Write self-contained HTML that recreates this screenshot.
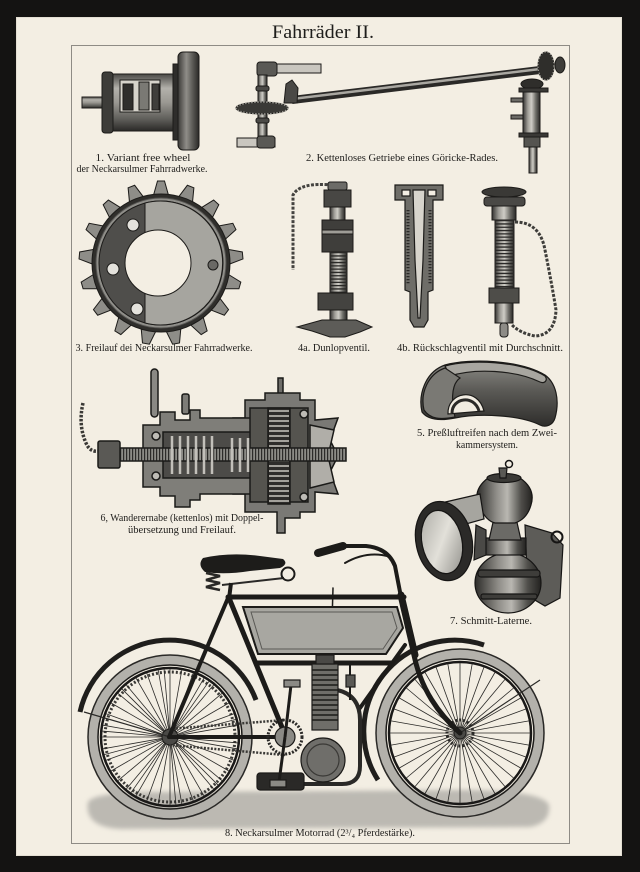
<!DOCTYPE html>
<html><head><meta charset="utf-8">
<style>
html,body{margin:0;padding:0;background:#121110;}
svg{display:block;}
text{font-family:"Liberation Serif","DejaVu Serif",serif;fill:#1e1d1b;}
</style></head><body>
<svg xmlns="http://www.w3.org/2000/svg" xmlns:xlink="http://www.w3.org/1999/xlink" width="640" height="872" viewBox="0 0 640 872">
<defs>
<linearGradient id="cx" x1="0" y1="0" x2="1" y2="0">
<stop offset="0" stop-color="#343331"/><stop offset=".28" stop-color="#9e9c96"/><stop offset=".5" stop-color="#cfcdc6"/><stop offset=".75" stop-color="#6f6e69"/><stop offset="1" stop-color="#292826"/>
</linearGradient>
<linearGradient id="cy" x1="0" y1="0" x2="0" y2="1">
<stop offset="0" stop-color="#4a4946"/><stop offset=".25" stop-color="#b3b1ab"/><stop offset=".5" stop-color="#9a9892"/><stop offset=".8" stop-color="#5d5c58"/><stop offset="1" stop-color="#2a2927"/>
</linearGradient>
<linearGradient id="fl" x1="0" y1="0" x2="1" y2="0">
<stop offset="0" stop-color="#3b3a37"/><stop offset=".4" stop-color="#8f8d88"/><stop offset=".7" stop-color="#5a5955"/><stop offset="1" stop-color="#2a2927"/>
</linearGradient>
<linearGradient id="lb" x1="0" y1="0" x2="1" y2="0">
<stop offset="0" stop-color="#2d2c2a"/><stop offset=".35" stop-color="#8e8c87"/><stop offset=".55" stop-color="#b9b7b1"/><stop offset=".8" stop-color="#4f4e4a"/><stop offset="1" stop-color="#232220"/>
</linearGradient>
<linearGradient id="lens" x1="0" y1="0" x2="1" y2="1">
<stop offset="0" stop-color="#a9a8a2"/><stop offset=".5" stop-color="#e2e0d9"/><stop offset="1" stop-color="#8a8984"/>
</linearGradient>
<linearGradient id="tire" x1="0" y1="0" x2="0" y2="1">
<stop offset="0" stop-color="#8d8c87"/><stop offset=".45" stop-color="#5b5a56"/><stop offset="1" stop-color="#2e2d2b"/>
</linearGradient>
<filter id="bl" x="-10%" y="-50%" width="120%" height="200%"><feGaussianBlur stdDeviation="2.5"/></filter>
<path id="tooth" d="M-8,-66 L-3.5,-82 L3.5,-82 L8,-66 Z"/>
</defs>

<!-- frame -->
<rect width="640" height="872" fill="#141312"/>
<rect x="16" y="17" width="606" height="839" fill="#f3eee3"/>
<rect x="16.5" y="17.5" width="605" height="838" fill="none" stroke="#e4dfd3" stroke-width="1"/>
<rect x="71.5" y="45.5" width="498" height="798" fill="none" stroke="#8e8b85" stroke-width="1"/>

<!-- title -->
<text x="323" y="38" font-size="19" text-anchor="middle" textLength="102" lengthAdjust="spacingAndGlyphs">Fahrräder II.</text>

<!-- ITEM 1 free wheel -->
<g stroke="#1c1b19" stroke-width="1">
<rect x="82" y="97" width="22" height="11" fill="url(#cy)"/>
<rect x="102" y="74" width="76" height="57" rx="3" fill="url(#cy)"/>
<rect x="102" y="72" width="11" height="61" rx="3" fill="#3d3c39"/>
<rect x="120" y="80" width="40" height="32" fill="#d6d3cb"/>
<rect x="123" y="84" width="10" height="26" fill="#2f2e2c"/>
<rect x="139" y="82" width="10" height="28" fill="#7a7974"/>
<rect x="152" y="84" width="7" height="26" fill="#3f3e3b"/>
<rect x="173" y="64" width="6" height="76" fill="#2e2d2b"/>
<rect x="178" y="52" width="21" height="98" rx="5" fill="url(#fl)"/>
</g>
<text x="143" y="161" font-size="10" text-anchor="middle" textLength="95" lengthAdjust="spacingAndGlyphs">1. Variant free wheel</text>
<text x="142" y="172" font-size="10" text-anchor="middle" textLength="131" lengthAdjust="spacingAndGlyphs">der Neckarsulmer Fahrradwerke.</text>

<!-- ITEM 2 Göricke gear -->
<g stroke="#1c1b19" stroke-width="1">
<line x1="292" y1="100" x2="540" y2="70" stroke="#2a2927" stroke-width="8"/>
<line x1="292" y1="99" x2="540" y2="69" stroke="#a9a7a1" stroke-width="2.5"/>
<rect x="275" y="64" width="46" height="9" fill="#c9c6bf"/>
<rect x="257" y="62" width="20" height="14" rx="3" fill="#5a5955"/>
<rect x="258" y="75" width="9" height="66" fill="url(#cx)"/>
<rect x="256" y="86" width="13" height="5" rx="2" fill="#4b4a47"/>
<rect x="256" y="118" width="13" height="5" rx="2" fill="#4b4a47"/>
<ellipse cx="262" cy="108" rx="26" ry="6" fill="#3a3936"/>
<ellipse cx="262" cy="108" rx="26" ry="6" fill="none" stroke="#9c9a94" stroke-width="1.5" stroke-dasharray="1.5 1.5"/>
<path d="M284,103 L286,84 L292,80 L298,88 L297,103 Z" fill="#4a4946"/>
<rect x="237" y="138" width="38" height="9" fill="#c9c6bf"/>
<rect x="257" y="136" width="18" height="12" rx="3" fill="#5a5955"/>
<ellipse cx="546" cy="66" rx="8" ry="14" fill="#2f2e2b"/>
<ellipse cx="546" cy="66" rx="8" ry="14" fill="none" stroke="#a09e98" stroke-dasharray="1.5 1.5"/>
<ellipse cx="560" cy="65" rx="5" ry="8" fill="#3d3c39"/>
<ellipse cx="532" cy="84" rx="11" ry="5" fill="#2f2e2b"/>
<rect x="519" y="88" width="29" height="4" fill="#3a3936"/>
<rect x="523" y="92" width="17" height="42" fill="url(#cx)"/>
<rect x="519" y="133" width="29" height="4" fill="#3a3936"/>
<rect x="524" y="137" width="16" height="10" fill="#555450"/>
<rect x="529" y="147" width="8" height="26" fill="url(#cx)"/>
<rect x="511" y="98" width="12" height="4" fill="#6b6a66"/>
<rect x="511" y="115" width="12" height="4" fill="#6b6a66"/>
</g>
<text x="402" y="161" font-size="10" text-anchor="middle" textLength="192" lengthAdjust="spacingAndGlyphs">2. Kettenloses Getriebe eines Göricke-Rades.</text>

<!-- ITEM 3 sprocket -->
<g transform="translate(161,263)" fill="#8e8d88" stroke="#1c1b19" stroke-width="1">
<use xlink:href="#tooth" transform="rotate(0)"/>
<use xlink:href="#tooth" transform="rotate(21.18)"/>
<use xlink:href="#tooth" transform="rotate(42.35)"/>
<use xlink:href="#tooth" transform="rotate(63.53)"/>
<use xlink:href="#tooth" transform="rotate(84.71)"/>
<use xlink:href="#tooth" transform="rotate(105.88)"/>
<use xlink:href="#tooth" transform="rotate(127.06)"/>
<use xlink:href="#tooth" transform="rotate(148.24)"/>
<use xlink:href="#tooth" transform="rotate(169.41)"/>
<use xlink:href="#tooth" transform="rotate(190.59)"/>
<use xlink:href="#tooth" transform="rotate(211.76)"/>
<use xlink:href="#tooth" transform="rotate(232.94)"/>
<use xlink:href="#tooth" transform="rotate(254.12)"/>
<use xlink:href="#tooth" transform="rotate(275.29)"/>
<use xlink:href="#tooth" transform="rotate(296.47)"/>
<use xlink:href="#tooth" transform="rotate(317.65)"/>
<use xlink:href="#tooth" transform="rotate(338.82)"/>
<circle r="69" fill="#2f2e2b"/>
<circle r="65" fill="#8f8e89" stroke="#545350"/>
<circle r="62" fill="#4f4e4b"/>
<path d="M-16,-60 A62,62 0 1 1 -16,60 Z" fill="#a6a59f"/>
<circle cx="-28" cy="-38" r="6" fill="#e4e2dc"/>
<circle cx="-48" cy="6" r="6" fill="#e4e2dc"/>
<circle cx="-24" cy="46" r="6" fill="#e4e2dc"/>
<circle cx="52" cy="2" r="5" fill="#6a6965"/>
<circle cx="-3" cy="0" r="33" fill="#f3eee3"/>
</g>
<text x="164" y="351" font-size="10" text-anchor="middle" textLength="177" lengthAdjust="spacingAndGlyphs">3. Freilauf dei Neckarsulmer Fahrradwerke.</text>

<!-- ITEM 4a Dunlop valve -->
<g stroke="#1c1b19" stroke-width="1">
<path d="M332,185 Q300,182 293,195 L293,270" fill="none" stroke="#444340" stroke-width="3" stroke-dasharray="3 1.5"/>
<rect x="328" y="182" width="19" height="8" rx="2" fill="#6c6b67"/>
<rect x="324" y="190" width="27" height="17" fill="#484744"/>
<rect x="330" y="207" width="15" height="13" fill="url(#cx)"/>
<rect x="322" y="220" width="31" height="32" fill="#3f3e3b"/>
<rect x="322" y="230" width="31" height="4" fill="#9f9d97"/>
<rect x="330" y="252" width="17" height="41" fill="url(#cx)"/>
<line x1="338.5" y1="252" x2="338.5" y2="293" stroke="#2a2927" stroke-width="17" stroke-dasharray="1.3 2"/>
<rect x="318" y="293" width="35" height="17" fill="#444340"/>
<rect x="330" y="310" width="17" height="11" fill="url(#cx)"/>
<path d="M297,327 L322,320 L356,320 L372,327 L360,332 L345,337 L330,337 L312,331 Z" fill="#5d5c58"/>
</g>
<text x="334" y="351" font-size="10" text-anchor="middle" textLength="72" lengthAdjust="spacingAndGlyphs">4a. Dunlopventil.</text>

<!-- ITEM 4b cross-section -->
<g stroke="#1c1b19" stroke-width="1.2">
<path d="M395,185 L443,185 L443,200 L433,200 L433,290 L428,292 L428,320 L424,327 L414,327 L410,320 L410,292 L405,290 L405,200 L395,200 Z" fill="#6e6d68"/>
<path d="M413,190 L425,190 L423,260 L420,318 L418,318 L415,260 Z" fill="#d7d4cc"/>
<rect x="402" y="190" width="8" height="6" fill="#f3eee3"/>
<rect x="428" y="190" width="8" height="6" fill="#f3eee3"/>
<path d="M408,210 L408,285 M430,210 L430,285" stroke="#2a2927" stroke-width="3" stroke-dasharray="1.2 1.8"/>
</g>

<!-- ITEM 4b right valve -->
<g stroke="#1c1b19" stroke-width="1">
<path d="M515,222 Q540,222 545,250 Q552,285 556,310 Q555,335 535,336 Q520,333 512,325" fill="none" stroke="#3e3d3a" stroke-width="3" stroke-dasharray="3 1.5"/>
<ellipse cx="504" cy="192" rx="22" ry="5" fill="#3a3936"/>
<rect x="484" y="197" width="41" height="9" rx="3" fill="#4a4946"/>
<rect x="492" y="206" width="24" height="14" fill="url(#cx)"/>
<rect x="495" y="220" width="19" height="68" fill="url(#cx)"/>
<line x1="504.5" y1="220" x2="504.5" y2="288" stroke="#2a2927" stroke-width="19" stroke-dasharray="1.3 2"/>
<rect x="489" y="288" width="30" height="15" fill="#4e4d49"/>
<rect x="495" y="303" width="18" height="20" fill="url(#cx)"/>
<rect x="500" y="323" width="8" height="14" rx="3" fill="#8d8b86"/>
</g>
<text x="480" y="351" font-size="10" text-anchor="middle" textLength="166" lengthAdjust="spacingAndGlyphs">4b. Rückschlagventil mit Durchschnitt.</text>

<!-- ITEM 5 tire -->
<g stroke="#1c1b19" stroke-width="1.2">
<path d="M422,412 C418,395 425,372 445,365 C470,358 520,360 545,375 C556,383 560,400 555,418 C553,425 546,428 540,425 C520,415 480,413 455,418 C440,421 428,420 422,412 Z" fill="url(#tire)"/>
<path d="M445,366 C470,359 520,361 545,376 C548,380 545,384 540,382 C515,370 475,368 450,376 Z" fill="#a8a6a0"/>
<path d="M424,410 C420,393 428,374 445,368 L460,378 C450,385 452,405 455,417 C440,420 430,419 424,410 Z" fill="#7a7974"/>
<path d="M448,414 C447,392 478,386 484,411 Z" fill="#f1ece1"/>
<path d="M452,413 C452,398 474,394 479,411" fill="none" stroke="#2a2927" stroke-width="3"/>
</g>
<text x="487" y="436" font-size="10" text-anchor="middle" textLength="140" lengthAdjust="spacingAndGlyphs">5. Preßluftreifen nach dem Zwei-</text>
<text x="487" y="448" font-size="10" text-anchor="middle" textLength="62" lengthAdjust="spacingAndGlyphs">kammersystem.</text>

<!-- ITEM 6 hub -->
<g stroke="#1a1a18" stroke-width="1.5">
<path d="M83,403 Q78,425 86,443 Q90,453 100,451" fill="none" stroke="#3a3936" stroke-width="3.5" stroke-dasharray="2.5 1.5"/>
<rect x="151" y="369" width="7" height="48" rx="3.5" fill="#8a8984"/>
<rect x="182" y="394" width="7" height="20" rx="2" fill="#7d7c77"/>
<rect x="278" y="378" width="5" height="18" fill="#6d6c68"/>
<path d="M233,418 L245,418 L245,400 L265,400 L265,393 L300,393 L300,400 L315,400 L315,420 L338,418 L330,440 L338,456 L330,472 L338,494 L315,492 L315,512 L300,512 L300,518 L285,518 L285,533 L277,533 L277,512 L245,512 L245,494 L233,494 Z" fill="#7a7975"/>
<path d="M143,425 L160,425 L160,412 L175,412 L175,420 L190,420 L190,410 L200,410 L200,418 L273,418 L273,494 L200,494 L200,500 L190,500 L190,507 L175,507 L175,496 L160,496 L160,487 L143,487 Z" fill="#7f7e79"/>
<rect x="163" y="432" width="108" height="46" fill="#4c4b48"/>
<rect x="250" y="408" width="58" height="94" fill="#55544f"/>
<rect x="268" y="408" width="22" height="96" fill="#2e2d2b"/>
<line x1="279" y1="410" x2="279" y2="502" stroke="#a3a19b" stroke-width="20" stroke-dasharray="2 3"/>
<path d="M310,425 L334,430 L328,456 L334,482 L310,488 Z" fill="#b0aea8"/>
<rect x="118" y="448" width="228" height="13" fill="#8c8b86"/>
<line x1="120" y1="454.5" x2="346" y2="454.5" stroke="#2c2b29" stroke-width="12" stroke-dasharray="1.2 1.8"/>
<rect x="98" y="441" width="22" height="27" rx="2" fill="#5a5955"/>
<path d="M172,436 L172,474 M180,436 L180,474 M188,436 L188,474 M196,436 L196,474 M204,436 L204,474 M212,436 L212,474 M232,438 L232,472 M240,438 L240,472 M248,438 L248,472" stroke="#c2c0ba" stroke-width="2.5"/>
<circle cx="156" cy="436" r="4" fill="#bdbbb5"/>
<circle cx="156" cy="476" r="4" fill="#bdbbb5"/>
<circle cx="304" cy="414" r="4" fill="#bdbbb5"/>
<circle cx="304" cy="497" r="4" fill="#bdbbb5"/>
</g>
<text x="182" y="521" font-size="10" text-anchor="middle" textLength="163" lengthAdjust="spacingAndGlyphs">6, Wanderernabe (kettenlos) mit Doppel-</text>
<text x="182" y="533" font-size="10" text-anchor="middle" textLength="108" lengthAdjust="spacingAndGlyphs">übersetzung und Freilauf.</text>

<!-- ITEM 7 lantern -->
<g stroke="#161514" stroke-width="1.2">
<path d="M525,525 L552,533 L563,545 L560,598 L545,606 L528,596 Z" fill="#5d5c58"/>
<circle cx="557" cy="537" r="5.5" fill="none" stroke-width="2"/>
<ellipse cx="508" cy="583" rx="33" ry="30" fill="url(#lb)"/>
<rect x="478" y="570" width="62" height="7" rx="3" fill="#3e3d3a"/>
<rect x="481" y="594" width="56" height="5" rx="2" fill="#3e3d3a"/>
<rect x="484" y="538" width="42" height="17" fill="url(#lb)"/>
<path d="M494,518 L516,518 L521,540 L489,540 Z" fill="#6b6a66"/>
<path d="M488,478 Q472,490 479,506 Q486,521 495,523 L515,523 Q527,519 531,505 Q536,489 520,478 Z" fill="url(#lb)"/>
<ellipse cx="504" cy="478" rx="17" ry="4.5" fill="#3b3a37"/>
<path d="M499,468 L507,468 L506,478 L500,478 Z" fill="#5a5955"/>
<circle cx="509" cy="464" r="3.5" fill="none" stroke-width="1.5"/>
<path d="M441,503 L480,494 L484,519 L455,527 Z" fill="#a6a59f"/>
<ellipse cx="444" cy="541" rx="28" ry="40" transform="rotate(-12 444 541)" fill="#2b2a28"/>
<ellipse cx="442" cy="542" rx="20" ry="32" transform="rotate(-12 442 542)" fill="url(#lens)"/>
<path d="M476,525 L486,530 L486,555 L474,560 Z" fill="#4a4946"/>
</g>
<text x="491" y="624" font-size="10" text-anchor="middle" textLength="82" lengthAdjust="spacingAndGlyphs">7. Schmitt-Laterne.</text>

<!-- ITEM 8 motorcycle -->
<path d="M88,802 Q96,791 170,792 L460,790 Q542,790 549,805 Q551,823 530,827 L120,829 Q84,827 88,802 Z" fill="#bcb9b2" filter="url(#bl)"/>

<!-- rear wheel -->
<g transform="translate(170,737)">
<circle r="77" fill="none" stroke="#b3b1ab" stroke-width="10"/>
<circle r="82" fill="none" stroke="#2a2927" stroke-width="1.5"/>
<circle r="72" fill="none" stroke="#1c1b19" stroke-width="1.5"/>
<circle r="69" fill="none" stroke="#1a1918" stroke-width="2.5"/>
<circle r="65" fill="none" stroke="#3a3936" stroke-width="3" stroke-dasharray="2 2"/>
<g stroke="#2a2927" stroke-width="0.8">
<line x1="-68" y1="0" x2="68" y2="0"/>
<line x1="-68" y1="0" x2="68" y2="0" transform="rotate(10)"/>
<line x1="-68" y1="0" x2="68" y2="0" transform="rotate(20)"/>
<line x1="-68" y1="0" x2="68" y2="0" transform="rotate(30)"/>
<line x1="-68" y1="0" x2="68" y2="0" transform="rotate(40)"/>
<line x1="-68" y1="0" x2="68" y2="0" transform="rotate(50)"/>
<line x1="-68" y1="0" x2="68" y2="0" transform="rotate(60)"/>
<line x1="-68" y1="0" x2="68" y2="0" transform="rotate(70)"/>
<line x1="-68" y1="0" x2="68" y2="0" transform="rotate(80)"/>
<line x1="-68" y1="0" x2="68" y2="0" transform="rotate(90)"/>
<line x1="-68" y1="0" x2="68" y2="0" transform="rotate(100)"/>
<line x1="-68" y1="0" x2="68" y2="0" transform="rotate(110)"/>
<line x1="-68" y1="0" x2="68" y2="0" transform="rotate(120)"/>
<line x1="-68" y1="0" x2="68" y2="0" transform="rotate(130)"/>
<line x1="-68" y1="0" x2="68" y2="0" transform="rotate(140)"/>
<line x1="-68" y1="0" x2="68" y2="0" transform="rotate(150)"/>
<line x1="-68" y1="0" x2="68" y2="0" transform="rotate(160)"/>
<line x1="-68" y1="0" x2="68" y2="0" transform="rotate(170)"/>
<line x1="-68" y1="0" x2="68" y2="0" transform="rotate(5)"/>
<line x1="-68" y1="0" x2="68" y2="0" transform="rotate(45)"/>
<line x1="-68" y1="0" x2="68" y2="0" transform="rotate(85)"/>
<line x1="-68" y1="0" x2="68" y2="0" transform="rotate(125)"/>
<line x1="-68" y1="0" x2="68" y2="0" transform="rotate(165)"/>
</g>
<circle r="8" fill="#4a4946" stroke="#1c1b19"/>
</g>
<!-- front wheel -->
<g transform="translate(460,733)">
<circle r="79" fill="none" stroke="#b3b1ab" stroke-width="10"/>
<circle r="84" fill="none" stroke="#2a2927" stroke-width="1.5"/>
<circle r="74" fill="none" stroke="#1c1b19" stroke-width="1.5"/>
<circle r="71" fill="none" stroke="#1a1918" stroke-width="2.5"/>
<g stroke="#2a2927" stroke-width="0.8">
<line x1="-70" y1="0" x2="70" y2="0"/>
<line x1="-70" y1="0" x2="70" y2="0" transform="rotate(10)"/>
<line x1="-70" y1="0" x2="70" y2="0" transform="rotate(20)"/>
<line x1="-70" y1="0" x2="70" y2="0" transform="rotate(30)"/>
<line x1="-70" y1="0" x2="70" y2="0" transform="rotate(40)"/>
<line x1="-70" y1="0" x2="70" y2="0" transform="rotate(50)"/>
<line x1="-70" y1="0" x2="70" y2="0" transform="rotate(60)"/>
<line x1="-70" y1="0" x2="70" y2="0" transform="rotate(70)"/>
<line x1="-70" y1="0" x2="70" y2="0" transform="rotate(80)"/>
<line x1="-70" y1="0" x2="70" y2="0" transform="rotate(90)"/>
<line x1="-70" y1="0" x2="70" y2="0" transform="rotate(100)"/>
<line x1="-70" y1="0" x2="70" y2="0" transform="rotate(110)"/>
<line x1="-70" y1="0" x2="70" y2="0" transform="rotate(120)"/>
<line x1="-70" y1="0" x2="70" y2="0" transform="rotate(130)"/>
<line x1="-70" y1="0" x2="70" y2="0" transform="rotate(140)"/>
<line x1="-70" y1="0" x2="70" y2="0" transform="rotate(150)"/>
<line x1="-70" y1="0" x2="70" y2="0" transform="rotate(160)"/>
<line x1="-70" y1="0" x2="70" y2="0" transform="rotate(170)"/>
</g>
<circle r="13" fill="none" stroke="#2a2927" stroke-width="3" stroke-dasharray="2 2"/>
<circle r="6" fill="#4a4946" stroke="#1c1b19"/>
</g>

<!-- fenders -->
<path d="M80,712 A92,92 0 0 1 256,700" fill="none" stroke="#1f1e1c" stroke-width="5"/>
<path d="M378,780 A91,91 0 0 1 484,645" fill="none" stroke="#1f1e1c" stroke-width="5"/>
<line x1="84" y1="712" x2="170" y2="737" stroke="#2a2927" stroke-width="1.2"/>
<line x1="540" y1="680" x2="460" y2="733" stroke="#2a2927" stroke-width="1.2"/>

<!-- chain -->
<line x1="169" y1="729" x2="285" y2="720" stroke="#3a3936" stroke-width="2.5" stroke-dasharray="2 1.5"/>
<line x1="169" y1="745" x2="285" y2="755" stroke="#3a3936" stroke-width="2.5" stroke-dasharray="2 1.5"/>

<!-- frame -->
<g stroke="#1c1b19" stroke-linecap="round" fill="none">
<line x1="228" y1="598" x2="169" y2="737" stroke-width="4"/>
<line x1="169" y1="737" x2="285" y2="737" stroke-width="4"/>
<line x1="229" y1="598" x2="286" y2="737" stroke-width="5"/>
<line x1="228" y1="597" x2="404" y2="597" stroke-width="5"/>
<line x1="256" y1="663" x2="392" y2="663" stroke-width="5"/>
<line x1="401" y1="595" x2="415" y2="655" stroke-width="7"/>
<path d="M413,650 C420,690 440,715 460,733" stroke-width="5"/>
<line x1="405" y1="645" x2="360" y2="708" stroke-width="4"/>
<path d="M401,597 L395,566 Q388,548 366,546 L346,546" stroke-width="4"/>
<line x1="318" y1="553" x2="343" y2="546" stroke-width="8"/>
<path d="M345,563 Q366,551 387,556" stroke-width="2"/>
<line x1="333" y1="588" x2="330" y2="690" stroke-width="1.5"/>
</g>
<path d="M243,607 L397,607 L403,628 L386,654 L258,654 Z" fill="#a8a7a1" stroke="#1c1b19" stroke-width="2"/>
<path d="M251,612 L392,612 L397,628 L383,649 L262,649 Z" fill="none" stroke="#5a5955" stroke-width="1"/>

<!-- saddle -->
<path d="M203,558 Q230,552 260,556 L283,559 Q289,564 280,568 L250,571 Q225,575 205,572 Q197,565 203,558 Z" fill="#1d1c1a"/>
<path d="M206,573 L220,576 L206,580 L220,583 L206,587 L220,590" fill="none" stroke="#2a2927" stroke-width="2.5"/>
<line x1="222" y1="585" x2="284" y2="578" stroke="#2a2927" stroke-width="2"/>
<circle cx="288" cy="574" r="6.5" fill="none" stroke="#1c1b19" stroke-width="2"/>
<line x1="231" y1="583" x2="229" y2="599" stroke="#1c1b19" stroke-width="4"/>

<!-- engine -->
<g stroke="#1c1b19" stroke-width="1.2">
<path d="M337,690 Q360,695 360,720 L360,766 Q360,784 342,784 L300,784" fill="none" stroke="#2a2927" stroke-width="4"/>
<rect x="312" y="664" width="26" height="66" fill="#6f6e69"/>
<path d="M312,670 H338 M312,675 H338 M312,680 H338 M312,685 H338 M312,690 H338 M312,695 H338 M312,700 H338 M312,705 H338 M312,710 H338 M312,715 H338 M312,720 H338" stroke="#1c1b19" stroke-width="1.6"/>
<rect x="316" y="655" width="18" height="9" fill="#4a4946"/>
<circle cx="323" cy="760" r="22" fill="#6f6e6a"/>
<circle cx="323" cy="760" r="16" fill="none" stroke="#3a3936"/>
<rect x="257" y="773" width="47" height="17" rx="3" fill="#2a2927"/>
<circle cx="285" cy="737" r="17" fill="none" stroke="#2a2927" stroke-width="3" stroke-dasharray="2 1.5"/>
<circle cx="285" cy="737" r="10" fill="#8b8a85"/>
<line x1="285" y1="737" x2="291" y2="685" stroke-width="3"/>
<line x1="285" y1="737" x2="279" y2="782" stroke-width="3"/>
<rect x="284" y="680" width="16" height="7" fill="#8b8a85"/>
<rect x="270" y="780" width="16" height="7" fill="#8b8a85"/>
<line x1="350" y1="665" x2="350" y2="700" stroke-width="2"/>
<rect x="346" y="675" width="9" height="12" fill="#5a5955"/>
</g>
<text x="320" y="836" font-size="10" text-anchor="middle" textLength="190" lengthAdjust="spacingAndGlyphs">8. Neckarsulmer Motorrad (2³/₄ Pferdestärke).</text>
</svg>
</body></html>
